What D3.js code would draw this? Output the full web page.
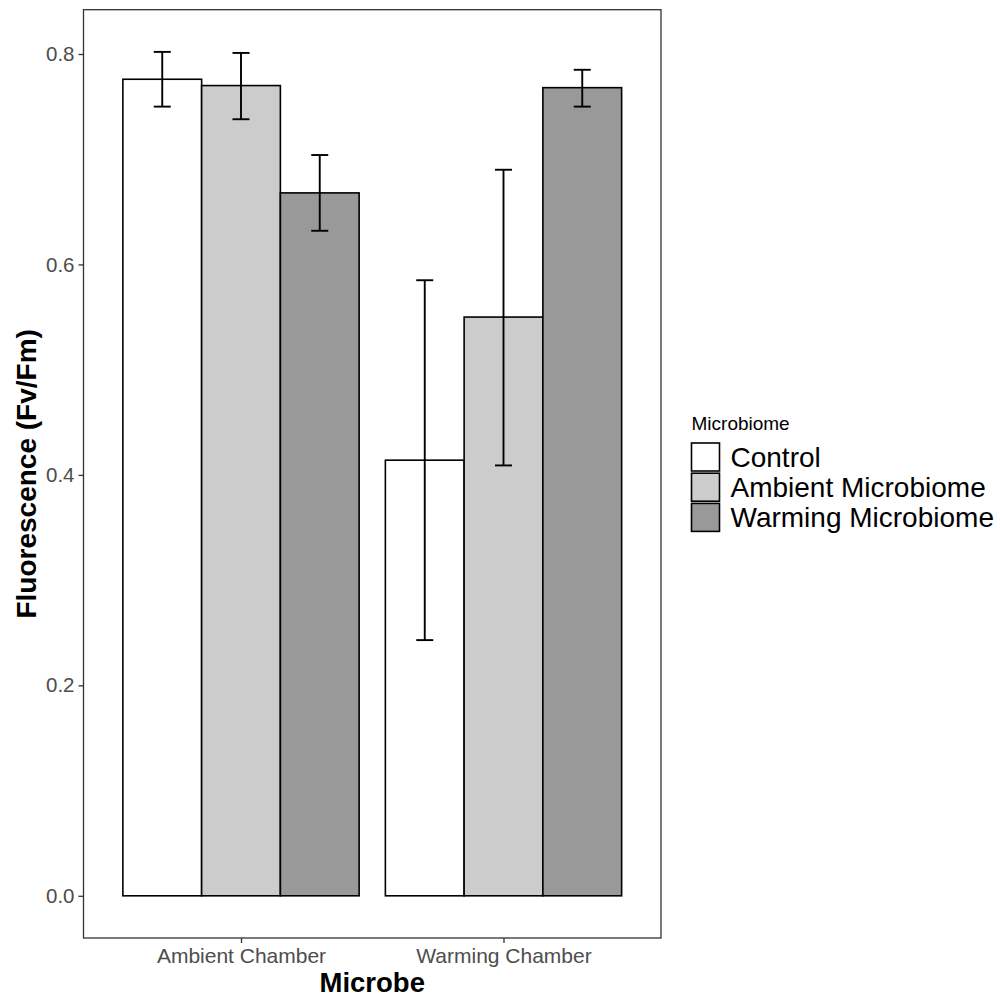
<!DOCTYPE html>
<html>
<head>
<meta charset="utf-8">
<script src="https://cdn.jsdelivr.net/npm/d3@7"></script>
<style>
  body { margin: 0; background: #fff; }
  svg { display: block; font-family: "Liberation Sans", Arial, sans-serif; }
</style>
</head>
<body>
<div id="chart"></div>
<script>
// data
var chambers = ["Ambient Chamber", "Warming Chamber"];
var microbiomes = ["Control", "Ambient Microbiome", "Warming Microbiome"];
var fills = ["#FFFFFF", "#CCCCCC", "#999999"];

var ambientMeans = [0.776, 0.770, 0.668];
var ambientLower = [0.750, 0.738, 0.632];
var ambientUpper = [0.802, 0.801, 0.704];

var warmingMeans = [0.414, 0.550, 0.768];
var warmingLower = [0.243, 0.409, 0.750];
var warmingUpper = [0.585, 0.690, 0.785];

var yTicks = [0, 0.2, 0.4, 0.6, 0.8];

// flat rows for drawing
var rows = [];
microbiomes.forEach(function (m, i) {
  rows.push({ chamber: chambers[0], microbiome: m, mean: ambientMeans[i], lo: ambientLower[i], hi: ambientUpper[i] });
  rows.push({ chamber: chambers[1], microbiome: m, mean: warmingMeans[i], lo: warmingLower[i], hi: warmingUpper[i] });
});

var W = 1000, H = 1001;
var panel = { left: 83.5, right: 661, top: 9.7, bottom: 938 };

var svg = d3.select("#chart").append("svg")
  .attr("width", W)
  .attr("height", H);

// y scale with ggplot style 5% expansion
var yMax = d3.max(rows, function (d) { return d.hi; });
var y = d3.scaleLinear()
  .domain([-0.05 * yMax, yMax * 1.05])
  .range([panel.bottom, panel.top]);

// x: chambers as discrete positions, 0.6 step padding on each side
var x = d3.scalePoint()
  .domain(chambers)
  .range([panel.left, panel.right])
  .padding(0.6);
var step = x.step();
var xInner = d3.scaleBand()
  .domain(microbiomes)
  .range([-0.45 * step, 0.45 * step]);
var color = d3.scaleOrdinal().domain(microbiomes).range(fills);

// bars
svg.append("g").selectAll("rect")
  .data(rows)
  .enter()
  .append("rect")
    .attr("x", function (d) { return x(d.chamber) + xInner(d.microbiome); })
    .attr("y", function (d) { return y(d.mean); })
    .attr("width", xInner.bandwidth())
    .attr("height", function (d) { return y(0) - y(d.mean); })
    .attr("fill", function (d) { return color(d.microbiome); })
    .attr("stroke", "#000")
    .attr("stroke-width", 1.6);

// error bars
var capHalf = 8.5;
var err = svg.append("g").attr("stroke", "#000").attr("stroke-width", 1.9);
rows.forEach(function (d) {
  var cx = x(d.chamber) + xInner(d.microbiome) + xInner.bandwidth() / 2;
  err.append("line").attr("x1", cx).attr("x2", cx).attr("y1", y(d.lo)).attr("y2", y(d.hi));
  err.append("line").attr("x1", cx - capHalf).attr("x2", cx + capHalf).attr("y1", y(d.lo)).attr("y2", y(d.lo));
  err.append("line").attr("x1", cx - capHalf).attr("x2", cx + capHalf).attr("y1", y(d.hi)).attr("y2", y(d.hi));
});

// panel border
svg.append("rect")
  .attr("x", panel.left)
  .attr("y", panel.top)
  .attr("width", panel.right - panel.left)
  .attr("height", panel.bottom - panel.top)
  .attr("fill", "none")
  .attr("stroke", "#333333")
  .attr("stroke-width", 1.3);

// y axis
var yAxis = svg.append("g")
  .attr("transform", "translate(" + panel.left + ",0)")
  .call(d3.axisLeft(y).tickValues(yTicks).tickFormat(d3.format(".1f")).tickSize(5).tickPadding(4));
yAxis.select(".domain").remove();
yAxis.selectAll(".tick line").attr("stroke", "#333333").attr("stroke-width", 1.3);
yAxis.selectAll(".tick text")
  .attr("fill", "#4D4D4D")
  .style("font-size", "20.5px")
  .style("font-family", "Liberation Sans, Arial, sans-serif");

// x axis
var xAxis = svg.append("g")
  .attr("transform", "translate(0," + panel.bottom + ")")
  .call(d3.axisBottom(x).tickSize(5).tickPadding(5));
xAxis.select(".domain").remove();
xAxis.selectAll(".tick line").attr("stroke", "#333333").attr("stroke-width", 1.3);
xAxis.selectAll(".tick text")
  .attr("fill", "#4D4D4D")
  .style("font-size", "21px")
  .style("font-family", "Liberation Sans, Arial, sans-serif");

// axis titles
svg.append("text")
  .attr("x", (panel.left + panel.right) / 2)
  .attr("y", 992)
  .attr("text-anchor", "middle")
  .style("font-size", "27.5px")
  .style("font-weight", "bold")
  .text("Microbe");

svg.append("text")
  .attr("transform", "translate(35.5," + (panel.top + panel.bottom) / 2 + ") rotate(-90)")
  .attr("text-anchor", "middle")
  .style("font-size", "28px")
  .style("font-weight", "bold")
  .text("Fluorescence (Fv/Fm)");

// legend
var legend = svg.append("g").attr("transform", "translate(691.5,430)");
legend.append("text")
  .attr("x", 0)
  .attr("y", 0)
  .style("font-size", "19px")
  .text("Microbiome");

var keys = legend.selectAll("g.key")
  .data(microbiomes)
  .enter()
  .append("g")
    .attr("class", "key")
    .attr("transform", function (d, i) { return "translate(0," + (13 + i * 30.2) + ")"; });
keys.append("rect")
  .attr("width", 28)
  .attr("height", 28)
  .attr("fill", function (d) { return color(d); })
  .attr("stroke", "#000")
  .attr("stroke-width", 1.6);
keys.append("text")
  .attr("x", 39)
  .attr("y", 14)
  .attr("dy", "0.35em")
  .style("font-size", "28px")
  .text(function (d) { return d; });
</script>
</body>
</html>
